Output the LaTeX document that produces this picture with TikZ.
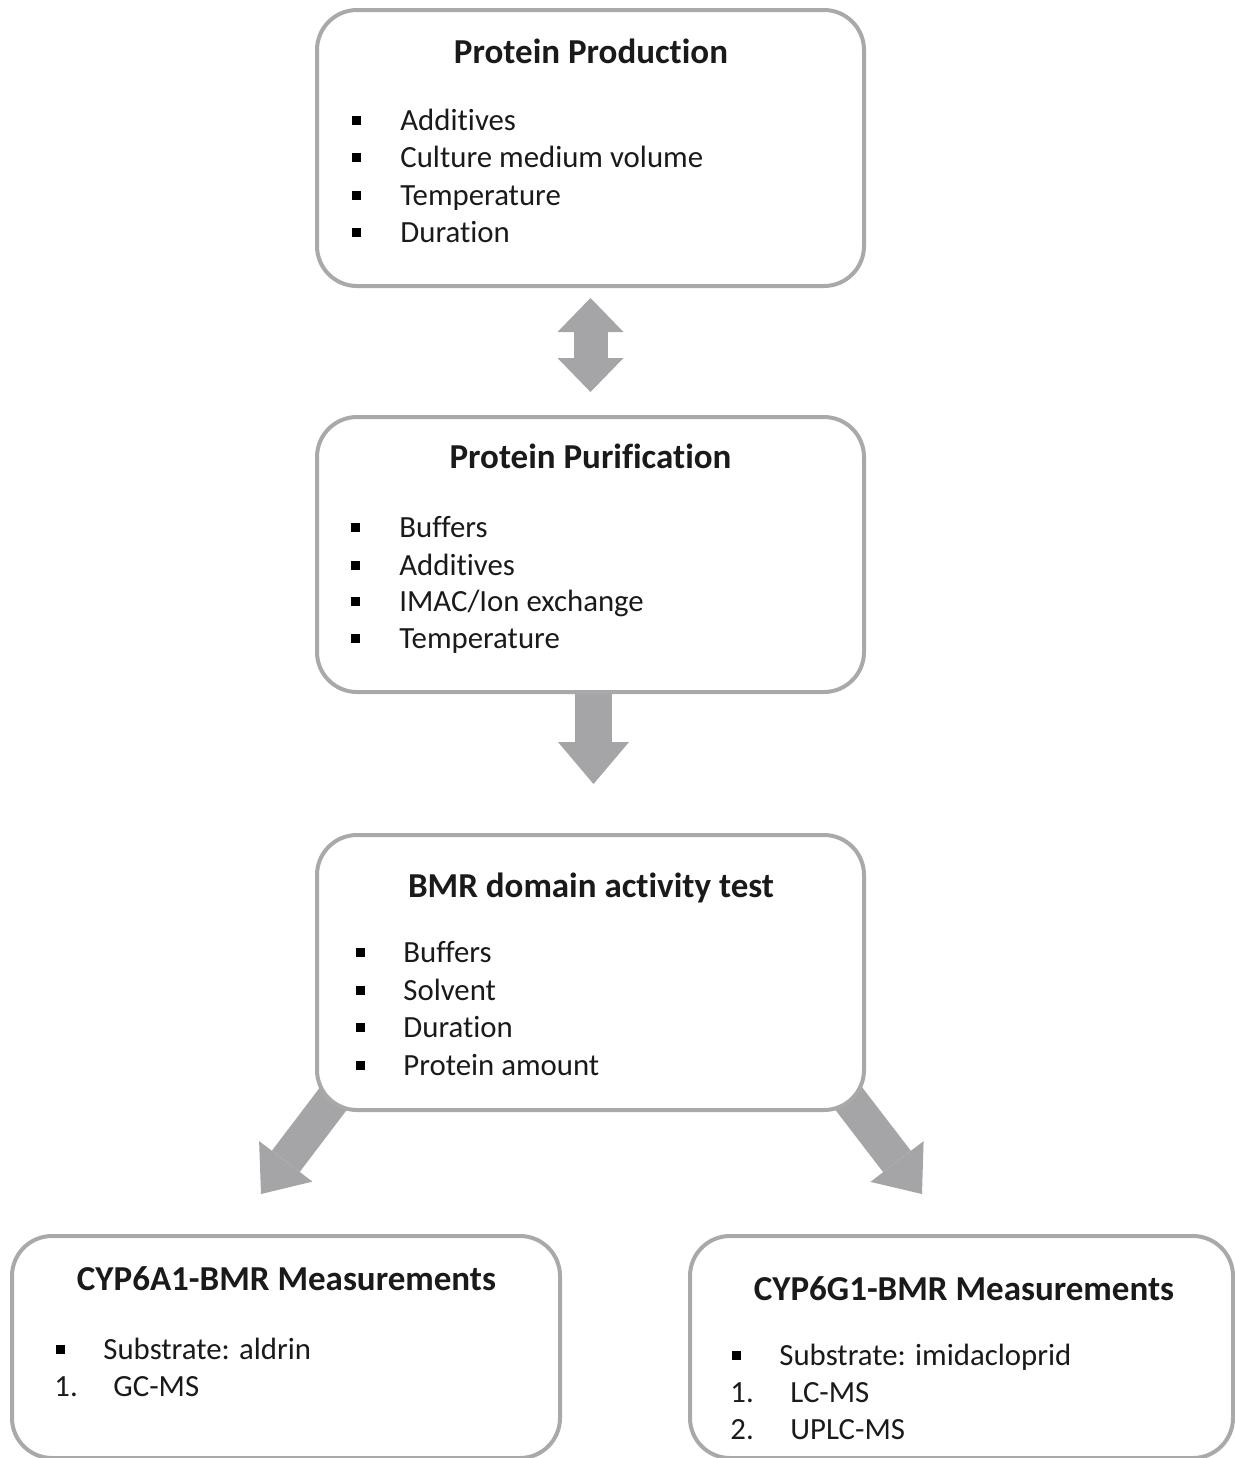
\documentclass[tikz,border=0pt]{standalone}
\usepackage{fontspec}
\setmainfont{Carlito}[Ligatures=NoCommon]
\usetikzlibrary{arrows.meta,calc}
\pgfdeclarelayer{bg}
\pgfsetlayers{bg,main}
\definecolor{bordergray}{HTML}{A9A9A9}
\definecolor{arrowgray}{HTML}{A5A5A8}
\definecolor{txt}{HTML}{1A1A1A}
\begin{document}
\begin{tikzpicture}[x=0.5pt,y=-0.5pt,
  box/.style={draw=bordergray, line width=2pt, rounded corners=20pt, fill=white, outer sep=0pt, inner sep=0pt},
  ttl/.style={font=\bfseries\fontsize{17.5pt}{20pt}\selectfont, text=txt, anchor=base, inner sep=0pt},
  itm/.style={font=\fontsize{15.4pt}{18pt}\selectfont, text=txt, anchor=base west, inner sep=0pt},
  sq/.style={fill=black, minimum size=4.5pt, inner sep=0pt, outer sep=0pt},
  blockarrow/.style={draw=arrowgray, line width=#1, line cap=butt},
]
\useasboundingbox (0,0) rectangle (1235,1458);

% boxes
\node[box, minimum width=273.5pt, minimum height=138pt] (prod) at (590.5,148) {};
\node[box, minimum width=273.5pt, minimum height=137.5pt] (puri) at (590.5,554.5) {};
\node[box, minimum width=273.5pt, minimum height=137.5pt] (bmr) at (590.5,972.5) {};
\node[box, minimum width=274pt, minimum height=111pt] (cypa) at (286,1347) {};
\node[box, minimum width=271.5pt, minimum height=111pt] (cypg) at (961.5,1347) {};

% titles
\node[ttl] (prodT) at (591,63) {Protein Production};
\node[ttl] (puriT) at (590.5,468) {Protein Purification};
\node[ttl] (bmrT) at (591,897) {BMR domain activity test};
\node[ttl] (cypaT) at (286.5,1290) {CYP6A1-BMR Measurements};
\node[ttl] (cypgT) at (964,1300) {CYP6G1-BMR Measurements};

% Protein Production items
\node[sq] (p1s) at (356,120) {}; \node[itm] (p1) at (400,130) {Additives};
\node[sq] (p2s) at (356,157.5) {}; \node[itm] (p2) at (400,167.5) {Culture medium volume};
\node[sq] (p3s) at (356,195) {}; \node[itm] (p3) at (400,205) {Temperature};
\node[sq] (p4s) at (356,232.5) {}; \node[itm] (p4) at (400,242.5) {Duration};

% Protein Purification items
\node[sq] (u1s) at (355,527) {}; \node[itm] (u1) at (399,537) {Buffers};
\node[sq] (u2s) at (355,565) {}; \node[itm] (u2) at (399,575) {Additives};
\node[sq] (u3s) at (355,601) {}; \node[itm] (u3) at (399,611) {IMAC/Ion exchange};
\node[sq] (u4s) at (355,638) {}; \node[itm] (u4) at (399,648) {Temperature};

% BMR items
\node[sq] (b1s) at (360,952) {}; \node[itm] (b1) at (403,962) {Buffers};
\node[sq] (b2s) at (360,990) {}; \node[itm] (b2) at (403,1000) {Solvent};
\node[sq] (b3s) at (360,1027) {}; \node[itm] (b3) at (403,1037) {Duration};
\node[sq] (b4s) at (360,1065) {}; \node[itm] (b4) at (403,1075) {Protein amount};

% CYP6A1 items
\node[sq] (a1s) at (60,1349) {}; \node[itm] (a1) at (103,1359) {Substrate: aldrin};
\node[itm] (a2n) at (54,1396) {1.}; \node[itm] (a2) at (113,1396) {GC-MS};

% CYP6G1 items
\node[sq] (g1s) at (736,1355) {}; \node[itm] (g1) at (779,1365) {Substrate: imidacloprid};
\node[itm] (g2n) at (730,1402) {1.}; \node[itm] (g2) at (790,1402) {LC-MS};
\node[itm] (g3n) at (730,1439) {2.}; \node[itm] (g3) at (790,1439) {UPLC-MS};

% block arrows (behind boxes)
\begin{pgfonlayer}{bg}
\draw[blockarrow=17pt, {Triangle[length=17pt,width=33pt,line width=0pt]}-{Triangle[length=17pt,width=33pt,line width=0pt]}]
  ($(prod.south)+(0,12)$) -- ($(puri.north)+(0,-25)$);
\draw[blockarrow=18.5pt, -{Triangle[length=21pt,width=35.5pt,line width=0pt]}]
  ($(puri.south)+(3,-10)$) -- ($(bmr.north)+(3,-51)$);
\draw[blockarrow=17.5pt, -{Triangle[length=20.5pt,width=33.5pt,line width=0pt]}]
  ($(bmr.south west)+(29,-28)$) -- ($(cypa.north)+(-25,-42)$);
\draw[blockarrow=17.5pt, -{Triangle[length=20.5pt,width=33.5pt,line width=0pt]}]
  ($(bmr.south east)+(-28,-28)$) -- ($(cypg.north)+(-39.5,-42)$);
\end{pgfonlayer}
\end{tikzpicture}
\end{document}
